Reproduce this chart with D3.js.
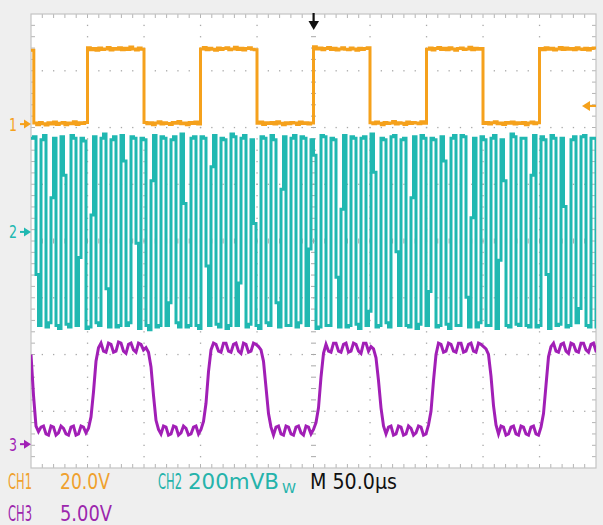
<!DOCTYPE html>
<html><head><meta charset="utf-8">
<script src="https://cdn.jsdelivr.net/npm/d3@7"></script>
<style>html,body{margin:0;padding:0;background:#efefef;}svg{display:block;}</style>
</head><body>
<svg id="c" width="603" height="525"></svg>
<script>
// ---------------- DATA ----------------
const timeDivs = 10, voltDivs = 8, timePerDiv = 50;      // µs / div
const ch1SampleUs = 2.5;        // CH1 sample spacing (µs)
const ch23SampleUs = 2.2124;    // CH2 / CH3 sample spacing (µs)
const triggerTimeUs = 250;
const triggerLevelV = 6.4;      // CH1 trigger level

// CH1 (20.0 V/div), volts relative to its ground marker
const ch1Volts = [26.0,
 0.4,-0.2,0.6,0.1,-0.3,0.5,0.0,0.7,-0.1,0.3,0.6,-0.2,0.4,0.1,0.8,-0.1,0.5,0.2,0.6,
 26.9,26.2,26.6,26.0,26.8,26.3,26.5,27.0,26.1,26.6,26.4,26.9,26.2,26.7,26.3,27.2,26.5,26.1,26.8,26.4,
 0.6,0.1,0.5,-0.2,0.4,0.8,0.0,0.5,0.2,-0.1,0.6,0.3,0.9,0.1,0.4,-0.2,0.6,0.2,0.7,0.0,
 26.5,27.0,26.2,26.7,26.4,26.0,26.8,26.3,26.6,26.9,26.2,26.5,27.1,26.3,26.7,26.1,26.6,26.9,26.4,26.2,
 0.3,0.7,-0.1,0.5,0.2,0.6,0.0,0.8,0.3,-0.2,0.5,0.1,0.6,0.4,-0.1,0.7,0.2,0.5,0.0,0.4,
 27.3,26.5,26.8,26.2,26.6,27.0,26.3,26.7,26.1,26.5,26.9,26.4,26.2,26.8,26.5,26.0,26.7,26.3,26.6,26.9,
 0.5,0.1,0.7,0.3,-0.2,0.6,0.2,0.4,0.9,0.0,0.5,0.3,-0.1,0.7,0.2,0.6,0.4,0.1,0.8,0.3,
 26.4,26.8,26.1,26.6,27.0,26.3,26.7,26.2,26.9,26.5,26.0,26.6,26.8,26.3,26.5,27.1,26.2,26.7,26.4,26.6,
 0.2,0.6,0.0,0.5,0.8,0.1,0.4,-0.1,0.6,0.3,0.7,0.0,0.5,0.2,0.6,-0.2,0.4,0.7,0.1,0.5,
 26.6,26.2,26.9,26.4,26.7,26.1,26.5,27.0,26.3,26.8,26.4,26.6,26.2,26.9,26.5,26.3,26.7,26.1,26.6,26.8,26.4];

// CH2 (200 mV/div), millivolts relative to its marker
const ch2MilliVolts = [
 330,335,-150,-330, 325,340,-335,-320, 120,330,-330,-340, 335,200,-325,-335,
 340,330,-330,-90, 330,320,-340,-335, 60,335,-320,-330, 330,345,-200,-335,
 325,335,-335,-330, 340,250,-330,-320, 335,330,-40,-340, 330,325,-330,-345,
 180,340,-335,-330, 335,330,-330,-250, 325,335,-320,-335, 345,100,-335,-330,
 330,335,-330,-340, 335,330,-120,-330, 230,340,-325,-335, 330,325,-340,-330,
 345,335,-330,-180, 330,340,-335,-325, 325,30,-330,-340, 335,330,-320,-330,
 340,325,-250,-335, 150,335,-330,-330, 330,340,-335,-320, 335,330,-330,-60,
 325,270,-340,-335, 340,335,-330,-330, 330,325,-160,-335, 80,340,-335,-330,
 335,330,-325,-340, 330,335,-330,-280, 345,210,-335,-330, 330,325,-320,-335,
 335,340,-70,-330, 325,330,-330,-335, 120,335,-340,-325, 340,330,-330,-210,
 330,325,-335,-330, 335,250,-325,-340, 330,340,-330,-330, 340,335,-230,-335,
 50,330,-335,-320, 335,325,-330,-330, 330,340,-340,-100, 325,180,-330,-335,
 345,335,-325,-330, 330,330,-330,-335, 200,340,-335,-330, 335,325,-150,-340,
 340,330,-330,-325, 330,90,-335,-330, 325,335,-320,-270, 335,340,-330,-335,
 330,330,-335,-330];

// CH3 (5.00 V/div), volts relative to its marker
const ch3Volts = [
 7.9,4.3,1.6,1.1,
 1.5,1.6,0.9,0.8,1.6,1.5,0.8,1.0,1.6,1.4,0.9,0.8,1.5,1.6,0.8,0.9,1.6,1.5,1.0,
 1.4,2.4,4.6,7.3,8.5,
 8.9,8.2,8.1,8.9,8.8,8.1,8.2,9.0,8.9,8.2,8.0,8.8,8.9,8.3,8.1,8.9,8.8,8.3,
 8.5,8.1,6.8,4.3,2.1,1.3,
 0.9,1.6,1.5,0.8,0.9,1.6,1.5,0.8,1.0,1.6,1.4,0.8,0.9,1.5,1.6,0.9,
 1.3,2.0,3.6,6.4,8.3,
 8.9,8.8,8.2,8.1,8.9,8.9,8.2,8.1,8.8,8.9,8.2,8.0,8.9,8.8,8.1,8.2,8.9,8.8,
 8.6,8.3,7.3,5.0,2.7,1.5,
 0.8,1.5,1.6,0.9,0.8,1.6,1.5,0.9,0.8,1.5,1.6,1.0,0.8,1.6,1.5,0.9,
 1.3,1.9,3.2,5.9,8.0,
 8.8,8.2,8.1,8.9,8.9,8.2,8.1,8.8,8.9,8.1,8.2,8.9,8.8,8.2,8.0,8.9,8.9,8.2,
 8.6,8.4,7.6,5.6,3.2,1.6,
 0.9,1.5,1.6,0.8,0.9,1.6,1.5,0.8,0.9,1.6,1.4,0.8,1.0,1.6,1.5,0.8,0.9,
 1.7,2.9,5.6,7.9,
 8.9,8.8,8.1,8.2,8.9,8.8,8.2,8.1,8.9,8.9,8.1,8.2,8.8,8.9,8.2,8.1,8.9,8.8,
 8.6,8.4,7.9,6.0,3.4,1.7,
 0.9,1.6,1.5,0.8,0.9,1.5,1.6,0.9,0.8,1.6,1.5,0.9,0.8,1.5,1.6,0.9,0.8,
 1.5,2.7,5.2,7.7,8.6,
 8.9,8.2,8.1,8.8,8.9,8.2,8.0,8.9,8.8,8.2,8.1,8.9,8.9,8.3,8.1,8.8,8.9,8.2,8.1];

const channelNames = ["CH1", "CH2", "CH3"];
const channelScaleLabels = ["20.0V", "200mVB", "5.00V"];
const bandwidthMark = "W";
const channelPerDiv = [20, 200, 5];
const channelOffsetDiv = [2.06, 0.16, -3.58];
const timebaseLabel = "M 50.0µs";

// ---------------- STYLE / LAYOUT ----------------
const colors = ["#f5a11c", "#20b8b1", "#a11fb6"];
const textColors = ["#efa12e", "#25b3ab", "#9c27ad"];
const plot = {left: 31, top: 14, right: 596, bottom: 468};
const svg = d3.select("#c");
const FONT = "'DejaVu Sans',sans-serif";

const x = d3.scaleLinear().domain([0, timeDivs * timePerDiv]).range([plot.left, plot.right]);
const y = d3.scaleLinear().domain([-voltDivs / 2, voltDivs / 2]).range([plot.bottom, plot.top]);
const chY = (ch, v) => y(channelOffsetDiv[ch] + v / channelPerDiv[ch]);

svg.append("rect").attr("width", 603).attr("height", 525).attr("fill", "#efefef");
svg.append("rect").attr("x", plot.left).attr("y", plot.top)
  .attr("width", plot.right - plot.left).attr("height", plot.bottom - plot.top)
  .attr("fill", "#ffffff");

// grid
const g = svg.append("g");
const majorT = d3.range(0, timeDivs * timePerDiv + 0.001, timePerDiv);
const minorT = d3.range(0, timeDivs * timePerDiv + 0.001, timePerDiv / 5);
const majorV = d3.range(-voltDivs / 2, voltDivs / 2 + 0.001, 1);
const minorV = d3.range(-voltDivs / 2, voltDivs / 2 + 0.001, 0.2);
const dotCol = "#a8a8a8";
majorT.slice(1, -1).forEach(t => {
  if (Math.abs(t - triggerTimeUs) < 1e-6) return;
  minorV.slice(1, -1).forEach(v => g.append("rect").attr("x", x(t) - 0.6).attr("y", y(v) - 0.6)
    .attr("width", 1.3).attr("height", 1.3).attr("fill", dotCol));
});
majorV.slice(1, -1).forEach(v => {
  if (Math.abs(v) < 1e-6) return;
  minorT.slice(1, -1).forEach(t => g.append("rect").attr("x", x(t) - 0.6).attr("y", y(v) - 0.6)
    .attr("width", 1.3).attr("height", 1.3).attr("fill", dotCol));
});
minorV.slice(1, -1).forEach(v => {
  g.append("line").attr("x1", x(250) - 2.5).attr("x2", x(250) + 2.5).attr("y1", y(v)).attr("y2", y(v))
    .attr("stroke", dotCol).attr("stroke-width", 1);
});
minorT.slice(1, -1).forEach(t => {
  g.append("line").attr("x1", x(t)).attr("x2", x(t)).attr("y1", y(0) - 2.5).attr("y2", y(0) + 2.5)
    .attr("stroke", dotCol).attr("stroke-width", 1);
});
minorT.slice(1, -1).forEach(t => {
  g.append("line").attr("x1", x(t)).attr("x2", x(t)).attr("y1", plot.top).attr("y2", plot.top + 4)
    .attr("stroke", "#b4b4b4");
  g.append("line").attr("x1", x(t)).attr("x2", x(t)).attr("y1", plot.bottom).attr("y2", plot.bottom - 4)
    .attr("stroke", "#b4b4b4");
});
minorV.slice(1, -1).forEach(v => {
  g.append("line").attr("x1", plot.left).attr("x2", plot.left + 4).attr("y1", y(v)).attr("y2", y(v))
    .attr("stroke", "#b4b4b4");
  g.append("line").attr("x1", plot.right).attr("x2", plot.right - 4).attr("y1", y(v)).attr("y2", y(v))
    .attr("stroke", "#b4b4b4");
});
svg.append("rect").attr("x", plot.left).attr("y", plot.top)
  .attr("width", plot.right - plot.left).attr("height", plot.bottom - plot.top)
  .attr("fill", "none").attr("stroke", "#c4c4c4").attr("stroke-width", 1.2);

svg.append("clipPath").attr("id", "clip").append("rect")
  .attr("x", plot.left).attr("y", plot.top - 2)
  .attr("width", plot.right - plot.left).attr("height", plot.bottom - plot.top + 4);

const traces = svg.append("g").attr("clip-path", "url(#clip)");
const lineCh1 = d3.line().x((d, i) => x(i * ch1SampleUs)).y(d => chY(0, d)).curve(d3.curveStepAfter);
const lineCh2 = d3.line().x((d, i) => x(i * ch23SampleUs)).y(d => chY(1, d)).curve(d3.curveStepAfter);
const lineCh3 = d3.line().x((d, i) => x(i * ch23SampleUs)).y(d => chY(2, d)).curve(d3.curveLinear);

traces.append("path").attr("d", lineCh2(ch2MilliVolts)).attr("fill", "none")
  .attr("stroke", colors[1]).attr("stroke-width", 3);
traces.append("path").attr("d", lineCh3(ch3Volts)).attr("fill", "none")
  .attr("stroke", colors[2]).attr("stroke-width", 3);
traces.append("path").attr("d", lineCh1(ch1Volts)).attr("fill", "none")
  .attr("stroke", colors[0]).attr("stroke-width", 3);

// horizontally condensed text helper
function label(txt, xx, yy, width, col, size) {
  const t = svg.append("text").attr("x", 0).attr("y", 0).text(txt)
    .attr("font-family", FONT).attr("font-size", size).attr("fill", col);
  const w = t.node().getComputedTextLength();
  t.attr("transform", `translate(${xx},${yy}) scale(${width / w},1)`);
  return t;
}

// channel ground markers
channelNames.forEach((n, i) => {
  const yy = y(channelOffsetDiv[i]);
  label(String(i + 1), 9, yy + 6.5, 8, colors[i], 18);
  svg.append("line").attr("x1", 20).attr("x2", 25).attr("y1", yy).attr("y2", yy)
    .attr("stroke", colors[i]).attr("stroke-width", 2);
  svg.append("path").attr("d", `M24,${yy - 4.5}L31,${yy}L24,${yy + 4.5}Z`).attr("fill", colors[i]);
});

// trigger level arrow (right)
const ty = chY(0, triggerLevelV);
svg.append("path").attr("d", `M582,${ty}L590,${ty - 5}L590,${ty + 5}Z`).attr("fill", colors[0]);
svg.append("line").attr("x1", 589).attr("x2", 596).attr("y1", ty).attr("y2", ty)
  .attr("stroke", colors[0]).attr("stroke-width", 2.2);

// trigger position arrow (top)
const tx = x(triggerTimeUs);
svg.append("rect").attr("x", tx - 1).attr("y", plot.top - 1).attr("width", 2.2).attr("height", 10).attr("fill", "#111");
svg.append("path").attr("d", `M${tx - 5},${plot.top + 7}L${tx + 5.5},${plot.top + 7}L${tx + 0.2},${plot.top + 16}Z`).attr("fill", "#111");

// bottom readouts
label(channelNames[0], 8, 489, 24, textColors[0], 21);
label(channelScaleLabels[0], 60, 489, 50, textColors[0], 21);
label(channelNames[1], 158, 489, 24, textColors[1], 21);
label(channelScaleLabels[1], 188, 489, 91, textColors[1], 21);
label(bandwidthMark, 282, 493, 14, textColors[1], 14);
label(timebaseLabel, 310, 489, 87, "#111", 21);
label(channelNames[2], 8, 521, 24, textColors[2], 21);
label(channelScaleLabels[2], 60, 521, 52, textColors[2], 21);
</script>
</body></html>
